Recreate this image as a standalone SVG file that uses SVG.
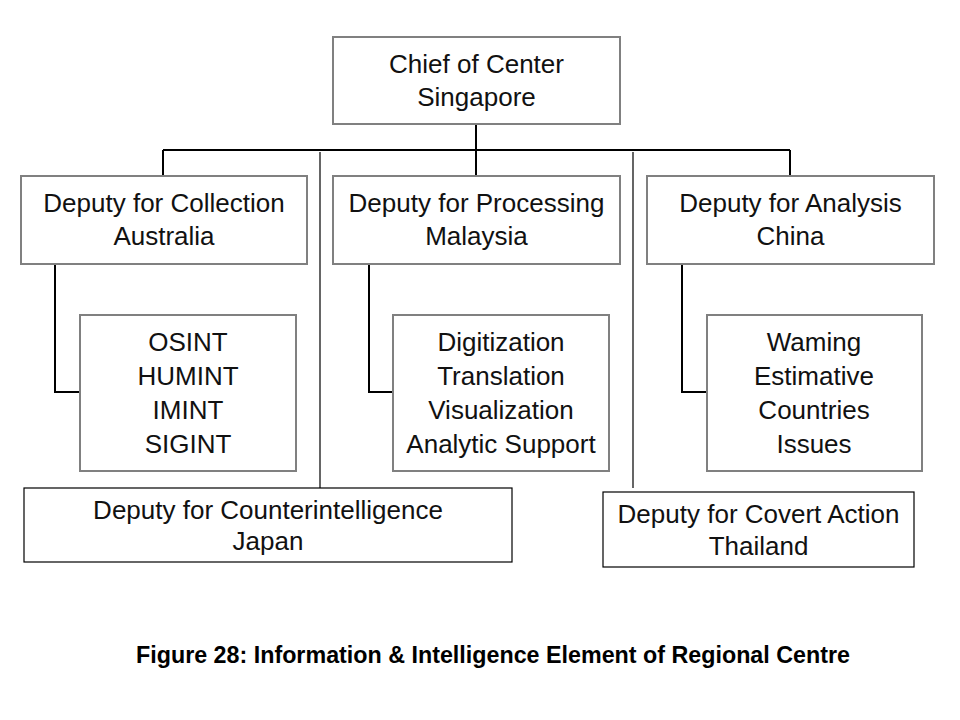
<svg xmlns="http://www.w3.org/2000/svg" width="960" height="720" viewBox="0 0 960 720">
<style>
.box{fill:#fff;stroke:#808080;stroke-width:2}
.box2{fill:#fff;stroke:#000;stroke-width:1.2}
.t{font-family:"Liberation Sans",Arial,sans-serif;font-size:26px;fill:#111;text-anchor:middle}
.c{fill:none;stroke:#000;stroke-width:2}
.thin{fill:none;stroke:#000;stroke-width:1.2}
.cap{font-family:"Liberation Sans",Arial,sans-serif;font-size:23px;font-weight:bold;fill:#000;text-anchor:middle}
</style>
<rect width="960" height="720" fill="#fff"/>
<g id="connectors">
<path class="c" d="M476 124V150M163 150H790M163 150V176M476 150V176M790 150V176"/>
<path class="thin" d="M320 152V488M633 152V488"/>
<path class="c" d="M55 264V392H80M369 264V392H393M682 264V392H707"/>
</g>
<g id="chief">
<rect class="box" x="333" y="37" width="287" height="87"/>
<text class="t" x="476.5" y="73">Chief of Center</text>
<text class="t" x="476.5" y="106">Singapore</text>
</g>
<g id="collection">
<rect class="box" x="21" y="176" width="286" height="88"/>
<text class="t" x="164" y="212">Deputy for Collection</text>
<text class="t" x="164" y="245">Australia</text>
</g>
<g id="processing">
<rect class="box" x="333" y="176" width="287" height="88"/>
<text class="t" x="476.5" y="212">Deputy for Processing</text>
<text class="t" x="476.5" y="245">Malaysia</text>
</g>
<g id="analysis">
<rect class="box" x="647" y="176" width="287" height="88"/>
<text class="t" x="790.5" y="212">Deputy for Analysis</text>
<text class="t" x="790.5" y="245">China</text>
</g>
<g id="collection-sub">
<rect class="box" x="80" y="315" width="216" height="156"/>
<text class="t" x="188" y="351">OSINT</text>
<text class="t" x="188" y="385">HUMINT</text>
<text class="t" x="188" y="419">IMINT</text>
<text class="t" x="188" y="453">SIGINT</text>
</g>
<g id="processing-sub">
<rect class="box" x="393" y="315" width="216" height="156"/>
<text class="t" x="501" y="351">Digitization</text>
<text class="t" x="501" y="385">Translation</text>
<text class="t" x="501" y="419">Visualization</text>
<text class="t" x="501" y="453">Analytic Support</text>
</g>
<g id="analysis-sub">
<rect class="box" x="707" y="315" width="215" height="156"/>
<text class="t" x="814" y="351">Waming</text>
<text class="t" x="814" y="385">Estimative</text>
<text class="t" x="814" y="419">Countries</text>
<text class="t" x="814" y="453">Issues</text>
</g>
<g id="counterintelligence">
<rect class="box2" x="24" y="488" width="488" height="74"/>
<text class="t" x="268" y="519">Deputy for Counterintelligence</text>
<text class="t" x="268" y="550">Japan</text>
</g>
<g id="covert">
<rect class="box2" x="603" y="492" width="311" height="75"/>
<text class="t" x="758.5" y="523">Deputy for Covert Action</text>
<text class="t" x="758.5" y="555">Thailand</text>
</g>
<text class="cap" x="493" y="663" textLength="714" lengthAdjust="spacingAndGlyphs">Figure 28: Information &amp; Intelligence Element of Regional Centre</text>
</svg>
